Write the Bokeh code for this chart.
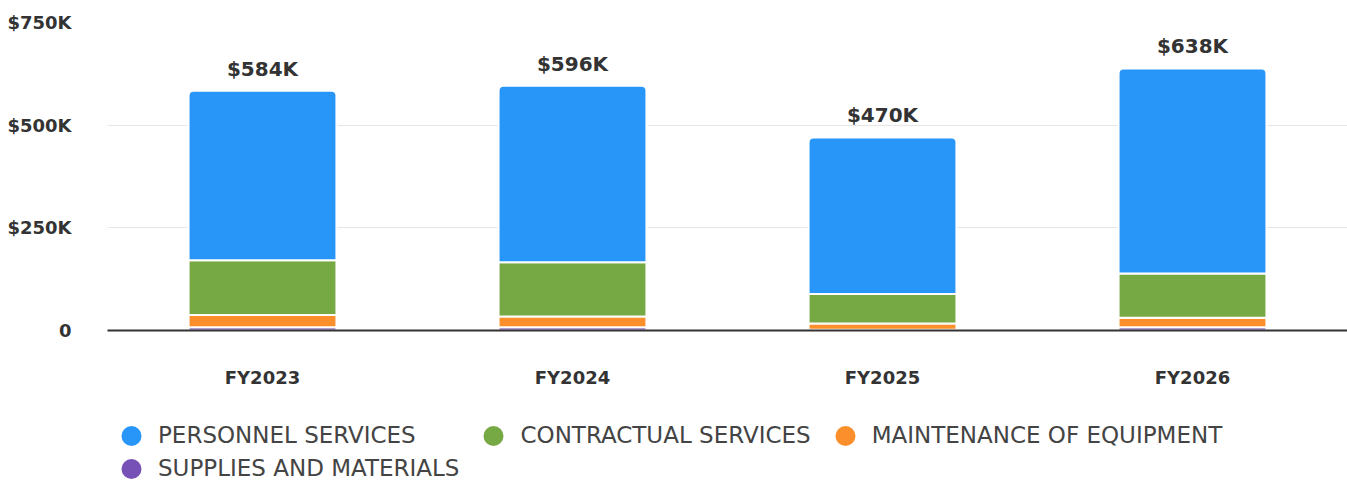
from bokeh.plotting import figure
from bokeh.layouts import column
from bokeh.models import (FactorRange, Range1d, ColumnDataSource, FixedTicker,
                          Legend, LegendItem)
from bokeh.transform import stack
from bokeh.core.properties import value
from bokeh.embed import file_html
from bokeh.resources import INLINE

# ---------------- data ----------------
years = ["FY2023", "FY2024", "FY2025", "FY2026"]
supplies = [8000, 8000, 2000, 8000]            # SUPPLIES AND MATERIALS
maintenance = [30000, 26000, 15000, 23000]     # MAINTENANCE OF EQUIPMENT
contractual = [133000, 132000, 72000, 108000]  # CONTRACTUAL SERVICES
personnel = [413000, 430000, 381000, 499000]   # PERSONNEL SERVICES

series_keys = ["supplies", "maintenance", "contractual", "personnel"]
series_names = {
    "personnel": "PERSONNEL SERVICES",
    "contractual": "CONTRACTUAL SERVICES",
    "maintenance": "MAINTENANCE OF EQUIPMENT",
    "supplies": "SUPPLIES AND MATERIALS",
}
series_colors = {
    "personnel": "#2896F8",
    "contractual": "#76A844",
    "maintenance": "#FB8F2B",
    "supplies": "#7851B6",
}
legend_order = ["personnel", "contractual", "maintenance", "supplies"]

y_ticks = [0, 250000, 500000, 750000]
y_tick_labels = ["0", "$250K", "$500K", "$750K"]

totals = [a + b + c + d for a, b, c, d in zip(supplies, maintenance, contractual, personnel)]
total_labels = ["$%dK" % round(t / 1000) for t in totals]

# ---------------- main figure ----------------
p = figure(width=1347, height=390, x_range=FactorRange(*years),
           y_range=Range1d(0, 750000), output_backend="svg",
           toolbar_location=None, min_border_left=107, min_border_right=0,
           min_border_top=22, min_border_bottom=56)
p.x_range.range_padding = 0
p.outline_line_color = None

src = ColumnDataSource(dict(year=years, supplies=supplies, maintenance=maintenance,
                            contractual=contractual, personnel=personnel))

for i, k in enumerate(series_keys):
    p.vbar(x="year", bottom=stack(*series_keys[:i]), top=stack(*series_keys[:i + 1]),
           width=0.477, source=src, fill_color=series_colors[k],
           line_color="white", line_width=2,
           border_radius=(5, 5, 0, 0) if k == "personnel" else 0)

tsrc = ColumnDataSource(dict(year=years, total=totals, label=total_labels))
p.text(x="year", y="total", text="label", source=tsrc, text_align="center",
       text_baseline="middle", y_offset=-22,
       text_font=value("DejaVu Sans"), text_font_style="bold",
       text_font_size="20px", text_color="#333333")

p.xgrid.grid_line_color = None
p.ygrid.grid_line_color = "#e6e6e6"
p.ygrid.grid_line_width = 1
p.yaxis.ticker = FixedTicker(ticks=y_ticks)
p.ygrid.ticker = FixedTicker(ticks=y_ticks)
p.yaxis.major_label_overrides = dict(zip(y_ticks, y_tick_labels))
p.yaxis.axis_line_color = None
p.yaxis.major_tick_line_color = None
p.yaxis.minor_tick_line_color = None
p.yaxis.major_label_standoff = 30
p.yaxis.major_label_text_font = "DejaVu Sans"
p.yaxis.major_label_text_font_style = "bold"
p.yaxis.major_label_text_font_size = "18px"
p.yaxis.major_label_text_color = "#333333"

p.xaxis.axis_line_color = "#333333"
p.xaxis.axis_line_width = 2
p.xaxis.major_tick_line_color = None
p.xaxis.minor_tick_line_color = None
p.xaxis.major_label_standoff = 30
p.xaxis.major_label_text_font = "DejaVu Sans"
p.xaxis.major_label_text_font_style = "bold"
p.xaxis.major_label_text_font_size = "18px"
p.xaxis.major_label_text_color = "#333333"

# ---------------- legend strip ----------------
lp = figure(width=1347, height=92, x_range=Range1d(0, 1), y_range=Range1d(0, 1),
            output_backend="svg", toolbar_location=None,
            x_axis_location=None, y_axis_location=None,
            min_border_left=107, min_border_right=0, min_border_top=0, min_border_bottom=0)
lp.outline_line_color = None
lp.xgrid.grid_line_color = None
lp.ygrid.grid_line_color = None

dummy = ColumnDataSource(dict(x=[-10], y=[-10]))
items = []
for k in legend_order:
    r = lp.ellipse(x="x", y="y", width=20, height=20, width_units="screen",
                   height_units="screen", source=dummy,
                   fill_color=series_colors[k], line_color=None)
    items.append(LegendItem(label=series_names[k], renderers=[r]))

legend = Legend(items=items, location=(-3, 1), orientation="horizontal", ncols=3,
                glyph_width=54, glyph_height=25, label_height=25, label_standoff=0,
                spacing=7, padding=0, margin=0, border_line_color=None,
                background_fill_alpha=0, label_text_font="DejaVu Sans",
                label_text_font_size="23px", label_text_color="#444444")
lp.add_layout(legend, "center")

layout = column(p, lp, spacing=0)
open("out.html", "w").write(file_html(layout, INLINE))
